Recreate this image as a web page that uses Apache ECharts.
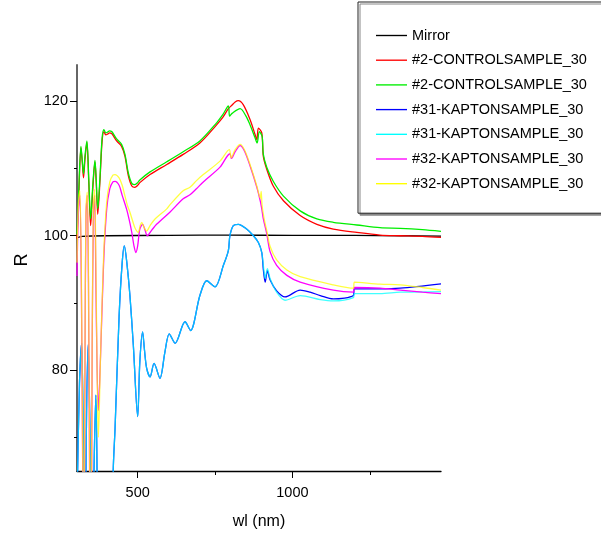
<!DOCTYPE html>
<html lang="en">
<head>
<meta charset="UTF-8">
<script src="https://cdn.jsdelivr.net/npm/echarts@6.0.0/dist/echarts.min.js"></script>
<style>
  html, body { margin: 0; padding: 0; background: #fff; }
  #chart { width: 601px; height: 535px; }
</style>
</head>
<body>
<div id="chart"></div>
<script>
// legend names (duplicates get a trailing space so each keeps its own entry)
const seriesNames = ['Mirror', '#2-CONTROLSAMPLE_30', '#2-CONTROLSAMPLE_30 ', '#31-KAPTONSAMPLE_30',
  '#31-KAPTONSAMPLE_30 ', '#32-KAPTONSAMPLE_30', '#32-KAPTONSAMPLE_30 '];
const seriesColors = ['#000000', '#ff0000', '#00ee00', '#0000ff', '#00ffff', '#ff00ff', '#ffff00'];
const seriesOpacity = [1, 1, 1, 1, 0.75, 1, 0.75];

const xMajorTicks = [500, 1000];
const xMinorTicks = [750, 1250];
const yMajorTicks = [80, 100, 120];
const yMinorTicks = [70, 90, 110];

// Mirror
const mirrorWl = [304, 320, 400, 600, 800, 1000, 1200, 1350, 1480];
const mirrorR  = [99.7, 99.9, 100.0, 100.05, 100.1, 100.05, 100.05, 100.0, 99.95];

// #2-CONTROLSAMPLE_30 (red)
const ctrlAWl = [304, 309, 316.7, 321, 325, 330, 336, 342, 348, 355, 362, 366, 371, 378, 385, 391, 397, 402, 409, 416,
  425, 432, 448, 459, 470, 481, 491, 500, 507, 540, 594, 647, 701, 755, 775, 793, 804, 815, 825, 841, 863, 879, 885,
  890, 901, 906, 917, 938, 971, 1025, 1079, 1132, 1208, 1283, 1348, 1420, 1480];
const ctrlAR  = [99.5, 105, 113.1, 111, 108.6, 111.5, 113.9, 108, 101.5, 107, 111, 108, 103.2, 108, 114, 115.5, 115, 115.1, 115.3, 115.2,
  114.6, 114.1, 113.3, 111.8, 108.9, 107.4, 107.2, 107.5, 107.9, 109.1, 110.6, 112.1, 113.8, 116.5, 117.6, 118.9, 119.4, 119.9, 120.1, 119.5, 117.3, 115.1, 114.3,
  116.0, 115.3, 111.8, 109.9, 107.4, 105.2, 103.0, 101.7, 101.0, 100.5, 100.1, 100.0, 99.9, 99.75];

// #2-CONTROLSAMPLE_30 (green)
const ctrlBWl = [304, 309, 316.7, 321, 325, 330, 336, 342, 348, 355, 362, 366, 371, 378, 385, 391, 397, 402, 409, 416,
  425, 432, 448, 459, 470, 481, 491, 500, 507, 540, 594, 647, 701, 755, 775, 793, 797, 805, 831, 850, 863, 879, 886,
  893, 902, 906, 917, 938, 971, 1025, 1079, 1132, 1208, 1283, 1348, 1420, 1480];
const ctrlBR  = [100.2, 106, 113.3, 111.2, 109.2, 112, 114.1, 108.5, 102.5, 107.5, 111.2, 108.5, 104, 108.5, 114.5, 115.8, 115.3, 115.4, 115.6, 115.5,
  114.9, 114.4, 113.6, 112.1, 109.3, 107.8, 107.6, 107.9, 108.3, 109.5, 111.0, 112.5, 114.1, 116.8, 118.0, 119.3, 117.8, 118.2, 118.9, 117.8, 116.5, 114.6, 113.8,
  115.5, 114.8, 112.1, 110.2, 108.1, 105.9, 103.7, 102.5, 102.0, 101.6, 101.2, 101.1, 100.9, 100.65];

// #31-KAPTONSAMPLE_30 (cyan)
const kap31BWl = [304, 312, 319, 324, 329, 334, 340, 346, 352, 359, 365, 370, 380, 400, 415, 421, 427, 440, 450, 457,
  465, 475, 486, 500, 507, 516, 522, 529, 540, 553, 572, 588, 602, 621, 653, 671, 701, 723, 750, 777, 793, 798, 809,
  825, 852, 874, 890, 901, 906, 912, 919, 928, 949, 976, 1025, 1090, 1132, 1197, 1200, 1283, 1348, 1480];
const kap31BR  = [60, 78, 84, 70, 40, 70, 83.8, 70, 40, 65, 76.3, 60, 30, 20, 40, 65, 71.4, 88, 96, 98.5,
  96, 91.1, 83.7, 73.1, 81.3, 85.7, 83, 80.3, 79, 81, 78.8, 82.7, 85.4, 84, 87.2, 85.9, 91.1, 93.3, 92.4, 95.6, 97.8, 100, 101.5,
  101.7, 101, 100, 99, 97.5, 95.6, 93.6, 95.1, 93.6, 91.6, 90.4, 91.1, 90.5, 90.3, 90.8, 91.4, 91.4, 91.6, 91.7];

// #31-KAPTONSAMPLE_30 (blue)
const kap31AWl = [304, 312, 319, 324, 329, 334, 340, 346, 352, 359, 365, 370, 380, 400, 415, 421, 427, 440, 450, 457,
  465, 475, 486, 500, 507, 516, 522, 529, 540, 553, 572, 588, 602, 621, 653, 671, 701, 723, 750, 777, 793, 798, 809,
  825, 852, 874, 890, 901, 906, 912, 919, 928, 949, 976, 1025, 1057, 1090, 1132, 1197, 1200, 1283, 1348, 1480];
const kap31AR  = [60, 78, 84, 70, 40, 70, 83.8, 70, 40, 65, 76.3, 60, 30, 20, 40, 65, 71.4, 88, 96, 98.5,
  96, 91.1, 83.7, 73.1, 81.3, 85.7, 83, 80.3, 79, 81, 78.8, 82.7, 85.4, 84, 87.2, 85.9, 91.1, 93.3, 92.4, 95.6, 97.8, 100, 101.5,
  101.7, 101, 100, 99, 97.5, 95, 93.1, 94.8, 93.4, 91.8, 90.9, 91.9, 91.6, 91.1, 90.6, 91.1, 92.1, 92.1, 92.2, 92.85];

// #32-KAPTONSAMPLE_30 (magenta)
const kap32AWl = [304, 308, 313, 318, 322, 326, 330, 333, 337, 341, 345, 349, 353, 357, 361, 365, 369, 373, 380, 390,
  400, 410, 420, 427, 440, 450, 464, 472, 481, 488, 494, 500, 507, 516, 524, 531, 545, 561, 604, 647, 669, 690, 712,
  766, 798, 803, 815, 831, 845, 863, 885, 896, 901, 906, 917, 928, 949, 982, 1025, 1132, 1197, 1200, 1283, 1348, 1420, 1480];
const kap32AR  = [94, 103, 106, 93, 68, 45, 83, 103, 106, 93, 62, 45, 83, 103, 106, 93, 80, 74, 82, 96,
  104, 107, 108, 108.1, 107.5, 106, 104, 102.5, 100.5, 98.5, 97.5, 98.5, 101, 101.7, 100.8, 100, 100.8, 101.7, 103.5, 105.5, 106.1, 107, 108,
  110.2, 112.2, 111.5, 112.5, 113.4, 112.6, 110.4, 107.2, 105.2, 104, 102.5, 100.3, 97.6, 95.6, 94.1, 93.1, 91.9, 91.6, 92.3, 92.2, 91.9, 91.6, 91.4];

// #32-KAPTONSAMPLE_30 (yellow)
const kap32BWl = [304, 308, 313, 318, 322, 326, 330, 333, 337, 341, 345, 349, 353, 357, 361, 365, 369, 373, 380, 390,
  400, 410, 420, 427, 440, 450, 459, 467, 475, 483, 491, 502, 508, 513, 520, 529, 540, 556, 594, 604, 647, 669, 690,
  712, 766, 796, 802, 815, 831, 845, 863, 885, 896, 899, 902, 910, 917, 928, 949, 982, 1025, 1132, 1197, 1200, 1283, 1348, 1420, 1480];
const kap32BR  = [96, 104, 106.7, 95, 70, 50, 85, 104, 106.5, 95, 65, 50, 85, 104, 106.9, 96, 80, 70, 82, 97,
  105, 108, 109, 109.1, 108.6, 107.5, 105.9, 104.5, 103.5, 102.3, 101.2, 100.5, 101.5, 102, 101.3, 100.7, 101.5, 102.5, 104, 104.6, 106.7, 107.2, 108.2,
  109.1, 111.1, 112.8, 111.6, 112.8, 113.6, 112.8, 110.6, 107.4, 105.6, 106.6, 104.5, 102.2, 100.8, 98.4, 96.4, 94.9, 93.9, 92.7, 92.2, 93.1, 92.8, 92.7, 92.3, 91.9];

const allWl = [mirrorWl, ctrlAWl, ctrlBWl, kap31AWl, kap31BWl, kap32AWl, kap32BWl];
const allR  = [mirrorR, ctrlAR, ctrlBR, kap31AR, kap31BR, kap32AR, kap32BR];

function zip(xs, ys) {
  return xs.map(function (x, i) { return [x, ys[i]]; });
}

const font = '"Liberation Sans", Arial, sans-serif';
const xMin = 304, xMax = 1480, yMin = 65, yMax = 125.4;

let chart = echarts.init(document.getElementById('chart'));

let option = {
  animation: false,
  backgroundColor: '#fff',
  grid: { left: 77, top: 65, right: 160, bottom: 62.3 },
  legend: {
    left: 358,
    top: 2,
    orient: 'vertical',
    padding: [26, 16, 22, 18],
    icon: 'path://M0,0L32,0L32,1.4L0,1.4Z',
    itemWidth: 31,
    itemHeight: 14,
    itemGap: 9.7,
    backgroundColor: '#fff',
    borderColor: '#222',
    borderWidth: 1,
    borderRadius: 0,
    shadowColor: '#888',
    shadowOffsetX: 2,
    shadowOffsetY: 2,
    shadowBlur: 0,
    formatter: function (name) { return name.trim(); },
    textStyle: { fontFamily: font, fontSize: 14.5, color: '#000', lineHeight: 14 },
    data: seriesNames
  },
  xAxis: [
    {
      type: 'value', min: xMin, max: xMax, position: 'bottom',
      name: 'wl (nm)', nameLocation: 'middle', nameGap: 43,
      nameTextStyle: { fontFamily: font, fontSize: 16, color: '#000' },
      axisLine: { lineStyle: { color: '#000', width: 1.3 } },
      axisTick: { customValues: xMajorTicks, length: 7, lineStyle: { color: '#000' } },
      axisLabel: {
        customValues: xMajorTicks, margin: 14, fontFamily: font, fontSize: 14.5, color: '#000',
        formatter: function (v) { return String(v); }
      },
      splitLine: { show: false }
    },
    {
      type: 'value', min: xMin, max: xMax, position: 'bottom',
      axisLine: { show: false },
      axisTick: { customValues: xMinorTicks, length: 4, lineStyle: { color: '#000' } },
      axisLabel: { show: false },
      splitLine: { show: false }
    }
  ],
  yAxis: [
    {
      type: 'value', min: yMin, max: yMax, position: 'left',
      name: 'R', nameLocation: 'middle', nameGap: 46,
      nameTextStyle: { fontFamily: font, fontSize: 18, color: '#000', padding: [0, 0, 0, 16] },
      axisLine: { show: true, lineStyle: { color: '#666', width: 2 } },
      axisTick: { customValues: yMajorTicks, length: 7, lineStyle: { color: '#000' } },
      axisLabel: { customValues: yMajorTicks, margin: 9, fontFamily: font, fontSize: 14.5, color: '#000' },
      splitLine: { show: false }
    },
    {
      type: 'value', min: yMin, max: yMax, position: 'left',
      axisLine: { show: false },
      axisTick: { customValues: yMinorTicks, length: 3, lineStyle: { color: '#000' } },
      axisLabel: { show: false },
      splitLine: { show: false }
    }
  ],
  series: seriesNames.map(function (name, i) {
    return {
      name: name,
      type: 'line',
      xAxisIndex: 0,
      yAxisIndex: 0,
      symbol: 'none',
      smooth: 0.3,
      clip: true,
      color: seriesColors[i],
      lineStyle: { color: seriesColors[i], width: 1.3, opacity: seriesOpacity[i] },
      data: zip(allWl[i], allR[i])
    };
  })
};

chart.setOption(option);
</script>
</body>
</html>
